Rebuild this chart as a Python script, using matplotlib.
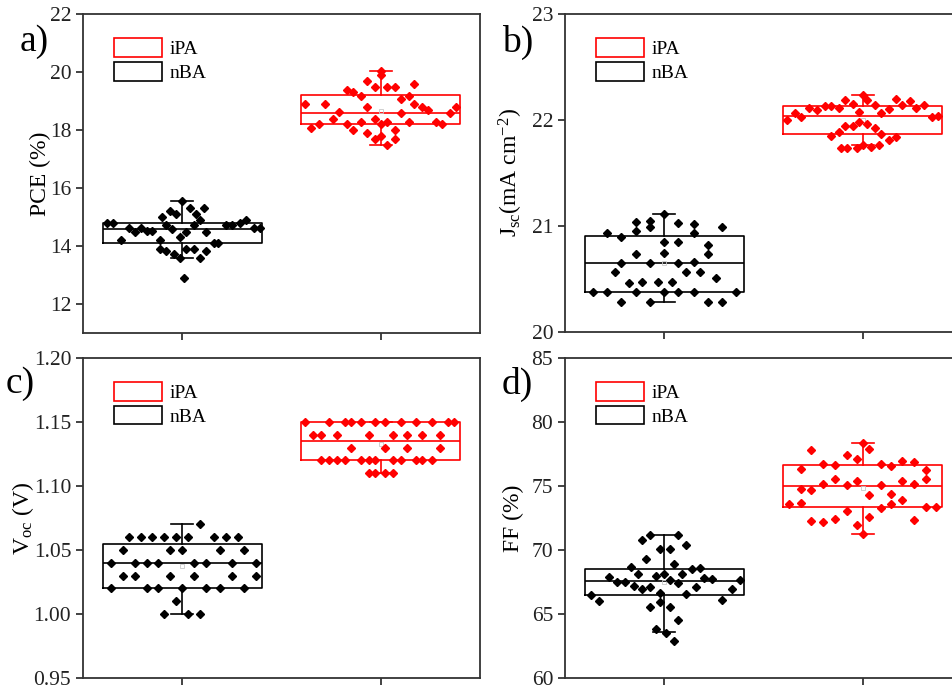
import numpy as np
import matplotlib
matplotlib.use("Agg")
import matplotlib.pyplot as plt
from matplotlib.patches import Patch

plt.rcParams["font.family"] = ["Liberation Serif", "DejaVu Serif"]
plt.rcParams["mathtext.fontset"] = "custom"
plt.rcParams["mathtext.rm"] = "Liberation Serif"
plt.rcParams["mathtext.it"] = "Liberation Serif:italic"

# -------------------------
# data (x = jitter offset from box centre)
# -------------------------
groups = ["nBA", "iPA"]
colors = ["black", "red"]

# a) PCE (%)
a_nba_x = [-0.38, -0.35, -0.31, -0.27, -0.24, -0.21, -0.18, -0.15, -0.11, -0.11, -0.10, -0.08, -0.08, -0.06,
           -0.05, -0.04, -0.03, -0.01, -0.01, 0.00, 0.01, 0.02, 0.02, 0.04, 0.06, 0.06, 0.07, 0.09, 0.09, 0.11,
           0.12, 0.12, 0.16, 0.18, 0.22, 0.25, 0.29, 0.32, 0.36, 0.39]
a_nba_y = [14.81, 14.81, 14.21, 14.61, 14.49, 14.61, 14.51, 14.51, 14.21, 13.91, 15.01, 14.71, 13.82, 15.22,
           14.60, 13.71, 15.12, 14.30, 13.59, 15.55, 12.90, 14.49, 13.91, 15.31, 14.71, 13.91, 15.10, 14.90, 13.59,
           15.31, 14.49, 13.82, 14.12, 14.12, 14.71, 14.71, 14.81, 14.90, 14.61, 14.61]
a_ipa_x = [-0.38, -0.35, -0.31, -0.28, -0.24, -0.21, -0.17, -0.17, -0.14, -0.14, -0.10, -0.10, -0.07, -0.07,
           -0.07, -0.03, -0.03, -0.03, 0.00, 0.00, 0.00, 0.00, 0.03, 0.03, 0.03, 0.07, 0.07, 0.07, 0.10, 0.10,
           0.14, 0.14, 0.17, 0.17, 0.21, 0.24, 0.28, 0.31, 0.35, 0.38]
a_ipa_y = [18.90, 18.08, 18.19, 18.90, 18.39, 18.61, 19.39, 18.19, 19.30, 17.99, 19.18, 18.29, 19.69, 18.78,
           17.90, 19.48, 18.39, 17.69, 19.89, 20.04, 18.19, 17.78, 19.48, 18.29, 17.49, 19.48, 17.99, 17.69, 19.08,
           18.59, 19.18, 18.29, 19.58, 18.90, 18.78, 18.70, 18.29, 18.19, 18.59, 18.78]

# b) Jsc (mA cm-2)
b_nba_x = [-0.36, -0.29, -0.29, -0.25, -0.22, -0.22, -0.22, -0.18, -0.14, -0.14, -0.14, -0.14, -0.11, -0.07,
           -0.07, -0.07, -0.07, -0.03, 0.00, 0.00, 0.00, 0.00, 0.04, 0.07, 0.07, 0.07, 0.07, 0.11, 0.15, 0.15,
           0.15, 0.15, 0.18, 0.22, 0.22, 0.22, 0.26, 0.29, 0.29, 0.36]
b_nba_y = [20.38, 20.38, 20.93, 20.57, 20.90, 20.65, 20.28, 20.46, 21.04, 20.95, 20.74, 20.38, 20.47, 21.05,
           20.99, 20.65, 20.28, 20.47, 21.11, 20.85, 20.75, 20.38, 20.47, 21.03, 20.85, 20.65, 20.38, 20.57, 21.02,
           20.93, 20.66, 20.38, 20.57, 20.82, 20.74, 20.28, 20.51, 20.99, 20.28, 20.38]
b_ipa_x = [-0.38, -0.34, -0.31, -0.27, -0.23, -0.19, -0.16, -0.16, -0.12, -0.12, -0.11, -0.09, -0.09, -0.08,
           -0.05, -0.05, -0.03, -0.02, -0.02, 0.00, 0.00, 0.02, 0.02, 0.04, 0.06, 0.06, 0.08, 0.09, 0.09, 0.13,
           0.13, 0.17, 0.17, 0.20, 0.24, 0.27, 0.31, 0.35, 0.38]
b_ipa_y = [22.00, 22.07, 22.03, 22.11, 22.09, 22.13, 22.13, 21.85, 22.11, 21.89, 21.74, 22.19, 21.94, 21.74,
           22.15, 21.94, 21.74, 22.08, 21.98, 22.24, 21.76, 22.19, 21.96, 21.75, 22.14, 21.92, 21.76, 22.07, 21.87,
           22.10, 21.81, 22.20, 21.84, 22.14, 22.18, 22.11, 22.14, 22.03, 22.04]

# c) Voc (V)
c_nba_x = [-0.27, -0.21, -0.15, -0.09, -0.03, 0.03, 0.16, 0.22, 0.28,
           0.09,
           -0.30, -0.06, 0.00, 0.19, 0.31,
           -0.36, -0.24, -0.18, -0.12, 0.06, 0.12, 0.25, 0.37,
           -0.30, -0.24, -0.06, 0.06, 0.25, 0.37,
           -0.36, -0.18, -0.12, 0.00, 0.12, 0.19, 0.31,
           -0.03,
           -0.09, 0.03, 0.09]
c_nba_y = [1.06] * 9 + [1.07] + [1.05] * 5 + [1.04] * 8 + [1.03] * 6 + [1.02] * 7 + [1.01] + [1.00] * 3
c_ipa_x = [-0.38, -0.26, -0.18, -0.15, -0.10, -0.03, 0.02, 0.10, 0.18, 0.26, 0.34, 0.37,
           -0.34, -0.30, -0.22, -0.06, 0.06, 0.13, 0.21, 0.30,
           -0.15, 0.02, 0.13, 0.30,
           -0.30, -0.26, -0.22, -0.18, -0.10, -0.06, -0.03, 0.06, 0.10, 0.18, 0.21, 0.26,
           -0.06, -0.03, 0.02, 0.06]
c_ipa_y = [1.15] * 12 + [1.14] * 8 + [1.13] * 4 + [1.12] * 12 + [1.11] * 4

# d) FF (%)
d_nba_x = [-0.37, -0.33, -0.28, -0.24, -0.20, -0.17, -0.15, -0.13, -0.11, -0.11, -0.09, -0.07, -0.07, -0.07,
           -0.04, -0.04, -0.02, -0.02, -0.02, 0.00, 0.01, 0.03, 0.03, 0.03, 0.05, 0.05, 0.07, 0.07, 0.07, 0.09,
           0.11, 0.11, 0.14, 0.16, 0.18, 0.20, 0.24, 0.29, 0.34, 0.38]
d_nba_y = [66.45, 65.98, 67.86, 67.50, 67.50, 68.64, 67.19, 68.13, 70.81, 66.95, 69.30, 71.15, 67.13, 65.56,
           67.99, 63.86, 70.06, 65.93, 66.61, 68.13, 63.53, 70.06, 67.66, 65.56, 68.91, 62.90, 71.15, 67.40, 64.52,
           68.13, 70.37, 66.56, 68.54, 67.13, 68.59, 67.81, 67.73, 66.11, 66.95, 67.66]
d_ipa_x = [-0.37, -0.31, -0.31, -0.31, -0.26, -0.26, -0.26, -0.20, -0.20, -0.20, -0.14, -0.14, -0.14, -0.08,
           -0.08, -0.08, -0.03, -0.03, -0.03, 0.00, 0.00, 0.03, 0.03, 0.03, 0.09, 0.09, 0.09, 0.14, 0.14, 0.14,
           0.20, 0.20, 0.20, 0.26, 0.26, 0.26, 0.32, 0.32, 0.32, 0.37]
d_ipa_y = [73.56, 76.30, 74.73, 73.69, 77.84, 74.66, 72.25, 76.74, 75.18, 72.17, 76.64, 75.52, 72.43, 77.42,
           75.10, 73.03, 77.11, 75.36, 71.96, 78.36, 71.26, 77.92, 74.26, 72.56, 76.69, 75.05, 73.27, 76.59, 74.40,
           73.61, 76.95, 75.38, 73.93, 76.85, 75.13, 72.36, 76.25, 75.52, 73.35, 73.35]

# box statistics as drawn: q1, median, q3, whisker low, whisker high
a_box = [[14.12, 14.60, 14.81, 13.59, 15.55], [18.19, 18.59, 19.19, 17.49, 20.04]]
b_box = [[20.38, 20.65, 20.91, 20.28, 21.11], [21.87, 22.04, 22.13, 21.76, 22.24]]
c_box = [[1.02, 1.04, 1.055, 1.00, 1.07], [1.12, 1.135, 1.15, 1.11, 1.15]]
d_box = [[66.50, 67.58, 68.54, 63.58, 71.15], [73.35, 75.00, 76.61, 71.26, 78.36]]

panels = [
    ("a)", r"PCE (%)", (11, 22), np.arange(12, 23, 2), "%d",
     [(a_nba_x, a_nba_y), (a_ipa_x, a_ipa_y)], a_box),
    ("b)", r"J$_{\rm sc}$(mA cm$^{-2}$)", (20, 23), np.arange(20, 24, 1), "%d",
     [(b_nba_x, b_nba_y), (b_ipa_x, b_ipa_y)], b_box),
    ("c)", r"V$_{\rm oc}$ (V)", (0.95, 1.20), np.arange(0.95, 1.201, 0.05), "%.2f",
     [(c_nba_x, c_nba_y), (c_ipa_x, c_ipa_y)], c_box),
    ("d)", r"FF (%)", (60, 85), np.arange(60, 86, 5), "%d",
     [(d_nba_x, d_nba_y), (d_ipa_x, d_ipa_y)], d_box),
]

# -------------------------
# figure
# -------------------------
W, H = 953, 693
fig = plt.figure(figsize=(W / 100, H / 100), dpi=100)

# axes boxes in pixels: left, top, right, bottom
rects = [(83, 14, 480, 333), (565, 14, 962, 332), (83, 358, 480, 678), (565, 358, 962, 678)]
letter_xy = [(20, 42), (502, 42), (6, 384), (502, 384)]
ylabel_x = [51, 525, 36, 524]

for i, (letter, ylab, ylim, yticks, fmt, pts, box) in enumerate(panels):
    l, t, r, b = rects[i]
    ax = fig.add_axes([l / W, 1 - b / H, (r - l) / W, (b - t) / H])

    for j in range(2):
        xs = np.array(pts[j][0]) + (j + 1)
        ys = np.array(pts[j][1])
        q1, med, q3, lo, hi = box[j]
        st = dict(q1=q1, med=med, q3=q3, whislo=lo, whishi=hi, mean=ys.mean(), fliers=[])
        ax.bxp([st], positions=[j + 1], widths=0.8, capwidths=0.11, showmeans=True,
               boxprops=dict(color=colors[j], lw=1.2),
               medianprops=dict(color=colors[j], lw=1.2),
               whiskerprops=dict(color=colors[j], lw=1.2),
               capprops=dict(color=colors[j], lw=1.2),
               meanprops=dict(marker="s", markersize=3, markerfacecolor="none",
                              markeredgecolor="#c8c8c8", markeredgewidth=0.6))
        ax.plot(xs, ys, ls="none", marker="D", markersize=4.2, color=colors[j], zorder=3)

    ax.set_xlim(0.5, 2.5)
    ax.set_ylim(*ylim)
    ax.set_xticks([1, 2])
    ax.set_xticklabels([])
    ax.set_yticks(yticks)
    ax.set_yticklabels([fmt % v for v in yticks])
    ax.tick_params(direction="out", length=5, width=1.2, labelsize=15.5, colors="#222222")
    for s in ax.spines.values():
        s.set_linewidth(1.3)
        s.set_color("#333333")

    ax.set_ylabel(ylab, fontsize=17)
    ax.yaxis.set_label_coords((ylabel_x[i] - l) / (r - l), 0.5)

    handles = [Patch(facecolor="white", edgecolor="red", lw=1.2),
               Patch(facecolor="white", edgecolor="black", lw=1.2)]
    ax.legend(handles, ["iPA", "nBA"], loc="upper left", frameon=False, fontsize=14,
              bbox_to_anchor=(31 / (r - l), 1 - 24 / (b - t)), borderpad=0, borderaxespad=0,
              handlelength=2.45, handleheight=1.1, handletextpad=0.4, labelspacing=0.2)

    fig.text(letter_xy[i][0] / W, 1 - letter_xy[i][1] / H, letter, fontsize=27,
             ha="left", va="center")

fig.savefig("out.png", dpi=100)
